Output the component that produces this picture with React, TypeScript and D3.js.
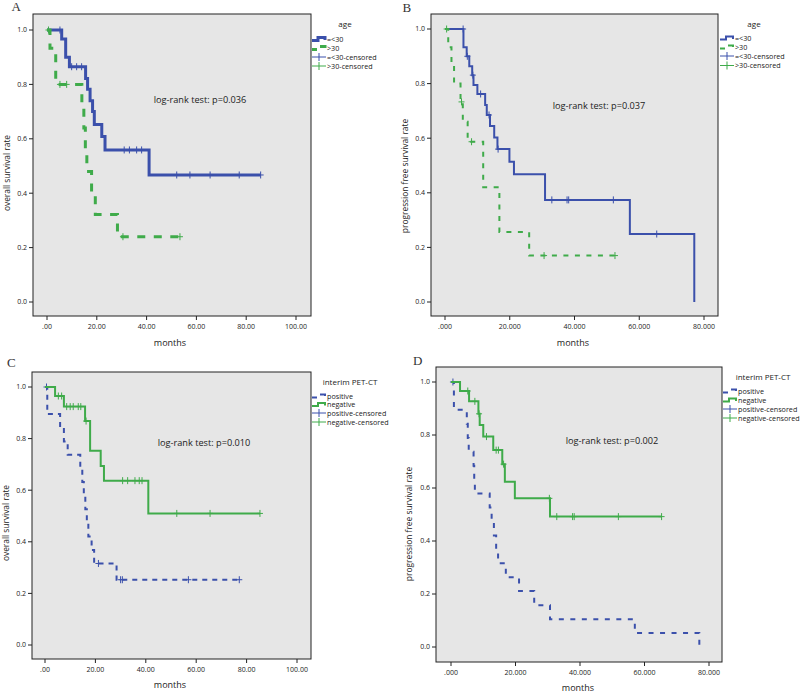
import React from "react";
import * as d3 from "d3";

// ---------- DATA ----------
// Panel A: overall survival by age
const aYoungTimes = [0, 5.9, 7.5, 9.0, 15.5, 16.3, 17.3, 18.3, 19.0, 22.0, 23.3, 41.0];
const aYoungSurv = [1, 0.967, 0.9, 0.865, 0.822, 0.782, 0.74, 0.7, 0.653, 0.608, 0.559, 0.467];
const aYoungCensor = [5.2, 9.9, 11.9, 13.9, 31.0, 33.1, 36.0, 38.0, 52.1, 57.4, 65.5, 77.2, 85.8];
const aOldTimes = [0, 1.2, 3.5, 14.0, 14.8, 15.4, 16.0, 17.9, 19.4, 28.3];
const aOldSurv = [1, 0.933, 0.8, 0.733, 0.64, 0.56, 0.48, 0.4, 0.322, 0.24];
const aOldCensor = [0.6, 5.2, 7.9, 30.5, 53.4];

// Panel B: progression free survival by age
const bYoungTimes = [0, 5.7, 6.7, 7.5, 8.4, 8.8, 10.0, 12.4, 12.9, 13.9, 15.2, 16.2, 19.9, 21.3, 30.9, 57.1, 77.0];
const bYoungSurv = [1, 0.933, 0.9, 0.864, 0.831, 0.795, 0.762, 0.722, 0.685, 0.645, 0.603, 0.56, 0.514, 0.468, 0.374, 0.249, 0];
const bYoungCensor = [5.6, 6.9, 8.6, 11.0, 13.6, 16.4, 33.0, 37.7, 38.2, 52.0, 65.4];
const bOldTimes = [0, 1.0, 2.0, 2.8, 4.8, 5.5, 7.0, 11.8, 16.8, 26.0];
const bOldSurv = [1, 0.933, 0.867, 0.8, 0.733, 0.66, 0.587, 0.42, 0.256, 0.17];
const bOldCensor = [0.5, 5.1, 8.2, 30.6, 52.5];

// Panel C: overall survival by interim PET-CT
const cPosTimes = [0, 0.9, 6.0, 7.5, 9.0, 14.0, 14.8, 15.4, 16.0, 16.6, 17.2, 18.5, 19.5, 28.4];
const cPosSurv = [1, 0.895, 0.842, 0.789, 0.737, 0.684, 0.632, 0.579, 0.526, 0.474, 0.421, 0.368, 0.316, 0.253];
const cPosCensor = [0.6, 21.2, 30.0, 30.7, 56.9, 77.1];
const cNegTimes = [0, 4.0, 7.5, 15.9, 17.9, 22.1, 23.4, 41.0];
const cNegSurv = [1, 0.965, 0.924, 0.868, 0.753, 0.694, 0.637, 0.51];
const cNegCensor = [5.3, 6.6, 8.6, 10.0, 11.2, 13.2, 14.2, 16.3, 30.8, 32.8, 35.7, 37.4, 38.5, 52.3, 65.5, 85.3];

// Panel D: progression free survival by interim PET-CT
const dPosTimes = [0, 0.9, 4.9, 5.2, 5.5, 7.0, 7.2, 7.4, 12.0, 12.6, 13.3, 14.0, 14.6, 17.0, 21.1, 25.8, 30.7, 57.0, 77.0];
const dPosSurv = [1, 0.895, 0.842, 0.789, 0.737, 0.684, 0.632, 0.579, 0.526, 0.474, 0.421, 0.368, 0.316, 0.263, 0.211, 0.158, 0.105, 0.053, 0];
const dPosCensor = [0.6];
const dNegTimes = [0, 2.8, 5.6, 8.5, 8.9, 10.0, 13.1, 15.9, 16.7, 19.8, 30.7];
const dNegSurv = [1, 0.966, 0.927, 0.88, 0.838, 0.794, 0.743, 0.69, 0.624, 0.561, 0.492];
const dNegCensor = [5.2, 7.4, 8.7, 11.0, 14.0, 14.7, 16.3, 30.5, 32.8, 37.7, 38.2, 51.9, 65.3];

const yTicks = [0, 0.2, 0.4, 0.6, 0.8, 1.0];
const yTickLabels = ["0.0", "0.2", "0.4", "0.6", "0.8", "1.0"];
const osTicks = [0, 20, 40, 60, 80, 100];
const osTickLabels = [".00", "20.00", "40.00", "60.00", "80.00", "100.00"];
const pfsTicks = [0, 20, 40, 60, 80];
const pfsTickLabels = [".000", "20.000", "40.000", "60.000", "80.000"];

const ageLegend = ["=<30", ">30", "=<30-censored", ">30-censored"];
const petLegend = ["positive", "negative", "positive-censored", "negative-censored"];

// ---------- STYLE ----------
const BLUE = "#3b50ab";
const GREEN = "#3fab4a";
const BG = "#e6e6e6";
const FONT = "'Open Sans', 'DejaVu Sans', sans-serif";
const SERIF = "'Liberation Serif', 'DejaVu Serif', serif";

type Series = {
  times: number[];
  surv: number[];
  censor: number[];
  color: string;
  dash?: string;
  width: number;
};

type Layout = {
  fx0: number; fx1: number; fy0: number; fy1: number;
  xp0: number; xp1: number; yp0: number; yp1: number;
  xMax: number;
};

function survAt(times: number[], surv: number[], t: number) {
  let s = surv[0];
  for (let i = 0; i < times.length; i++) if (times[i] <= t) s = surv[i];
  return s;
}

function Panel(props: {
  L: Layout;
  xTicks: number[];
  xLabels: string[];
  series: Series[];
  legendTitle: string;
  legendItems: string[];
  legendX: number;
  legendTitleX: number;
  legendTitleY: number;
  legendY: number[];
  letter: string;
  letterX: number;
  letterY: number;
  ylabel: string;
  ylabelX: number;
  ylabelY: number;
  xlabelX: number;
  xlabelY: number;
  logrank: string;
  logrankX: number;
  logrankY: number;
}) {
  const { L } = props;
  const x = d3.scaleLinear().domain([0, L.xMax]).range([L.xp0, L.xp1]);
  const y = d3.scaleLinear().domain([0, 1]).range([L.yp0, L.yp1]);
  const line = d3
    .line<[number, number]>()
    .x((d) => x(d[0]))
    .y((d) => y(d[1]))
    .curve(d3.curveStepAfter);

  return (
    <g>
      <rect x={L.fx0} y={L.fy0} width={L.fx1 - L.fx0} height={L.fy1 - L.fy0} fill={BG} stroke="#222" strokeWidth={1} />
      {yTicks.map((v, i) => (
        <g key={"y" + i}>
          <line x1={L.fx0 - 4} x2={L.fx0} y1={y(v)} y2={y(v)} stroke="#222" strokeWidth={1} />
          <text x={L.fx0 - 6} y={y(v)} dy="0.35em" textAnchor="end" fontSize={7} fontFamily={FONT} fill="#222">
            {yTickLabels[i]}
          </text>
        </g>
      ))}
      {props.xTicks.map((v, i) => (
        <g key={"x" + i}>
          <line x1={x(v)} x2={x(v)} y1={L.fy1} y2={L.fy1 + 4} stroke="#222" strokeWidth={1} />
          <text x={x(v)} y={L.fy1 + 12.5} textAnchor="middle" fontSize={7} fontFamily={FONT} fill="#222">
            {props.xLabels[i]}
          </text>
        </g>
      ))}
      {props.series.map((s, i) => {
        const last = Math.max(s.times[s.times.length - 1], ...s.censor);
        const pts: [number, number][] = s.times.map((t, j) => [t, s.surv[j]] as [number, number]);
        pts.push([last, s.surv[s.surv.length - 1]]);
        return (
          <g key={"s" + i}>
            <path d={line(pts) || ""} fill="none" stroke={s.color} strokeWidth={s.width} strokeDasharray={s.dash} />
            {s.censor.map((c, k) => {
              const cx = x(c);
              const cy = y(survAt(s.times, s.surv, c));
              return (
                <path key={k} d={`M${cx - 3},${cy}H${cx + 3}M${cx},${cy - 3.5}V${cy + 3.5}`} stroke={s.color} strokeWidth={1} fill="none" />
              );
            })}
          </g>
        );
      })}
      <text x={props.legendTitleX} y={props.legendTitleY} textAnchor="middle" fontSize={8} fontFamily={FONT} fill="#222">
        {props.legendTitle}
      </text>
      {props.legendItems.map((label, i) => {
        const s = props.series[i % 2];
        const ly = props.legendY[i];
        const x0 = props.legendX;
        let sym: React.ReactNode;
        if (i < 2) {
          if (s.dash) {
            sym = (
              <path d={`M${x0},${ly + 1.5}H${x0 + 5}M${x0 + 8},${ly - 1.5}H${x0 + 13}V${ly}`} stroke={s.color} strokeWidth={s.width} fill="none" />
            );
          } else {
            sym = (
              <path d={`M${x0},${ly + 1.5}H${x0 + 6}V${ly - 1.5}H${x0 + 13}V${ly + 1}`} stroke={s.color} strokeWidth={s.width} fill="none" />
            );
          }
        } else {
          sym = (
            <path d={`M${x0},${ly}H${x0 + 14}M${x0 + 7},${ly - 4}V${ly + 4}`} stroke={s.color} strokeWidth={1} fill="none" />
          );
        }
        return (
          <g key={"l" + i}>
            {sym}
            <text x={x0 + 15} y={ly} dy="0.35em" fontSize={7.2} fontFamily={FONT} fill="#222">
              {label}
            </text>
          </g>
        );
      })}
      <text x={props.letterX} y={props.letterY} fontSize={13} fontFamily={SERIF} fill="#333">
        {props.letter}
      </text>
      <text
        transform={`translate(${props.ylabelX},${props.ylabelY}) rotate(-90)`}
        textAnchor="middle"
        fontSize={8.4}
        fontFamily={FONT}
        fill="#222"
      >
        {props.ylabel}
      </text>
      <text x={props.xlabelX} y={props.xlabelY} textAnchor="middle" fontSize={9} fontFamily={FONT} fill="#222">
        months
      </text>
      <text x={props.logrankX} y={props.logrankY} textAnchor="middle" fontSize={9.2} fontFamily={FONT} fill="#222">
        {props.logrank}
      </text>
    </g>
  );
}

export default function App() {
  const LA: Layout = { fx0: 33, fx1: 311, fy0: 14, fy1: 316, xp0: 47, xp1: 296, yp0: 302, yp1: 30, xMax: 100 };
  const LB: Layout = { fx0: 431, fx1: 718, fy0: 14, fy1: 316, xp0: 445, xp1: 704, yp0: 302, yp1: 29, xMax: 80 };
  const LC: Layout = { fx0: 32, fx1: 311, fy0: 372, fy1: 659, xp0: 45, xp1: 297, yp0: 645, yp1: 387, xMax: 100 };
  const LD: Layout = { fx0: 436, fx1: 722, fy0: 367, fy1: 662, xp0: 451, xp1: 709, yp0: 647, yp1: 382, xMax: 80 };

  return (
    <svg width={800} height={693} style={{ position: "absolute", left: 0, top: 0, background: "#fff" }}>
      <rect width={800} height={693} fill="#fff" />
      <Panel
        L={LA}
        xTicks={osTicks}
        xLabels={osTickLabels}
        series={[
          { times: aYoungTimes, surv: aYoungSurv, censor: aYoungCensor, color: BLUE, width: 3 },
          { times: aOldTimes, surv: aOldSurv, censor: aOldCensor, color: GREEN, width: 3, dash: "8 8.5" },
        ]}
        legendTitle="age"
        legendItems={ageLegend}
        legendX={312}
        legendTitleX={345}
        legendTitleY={26.5}
        legendY={[39, 48, 57, 66]}
        letter="A"
        letterX={11.5}
        letterY={10.8}
        ylabel="overall survival rate"
        ylabelX={10}
        ylabelY={173}
        xlabelX={170}
        xlabelY={345.5}
        logrank="log-rank test: p=0.036"
        logrankX={200}
        logrankY={103}
      />
      <Panel
        L={LB}
        xTicks={pfsTicks}
        xLabels={pfsTickLabels}
        series={[
          { times: bYoungTimes, surv: bYoungSurv, censor: bYoungCensor, color: BLUE, width: 2 },
          { times: bOldTimes, surv: bOldSurv, censor: bOldCensor, color: GREEN, width: 2, dash: "5 6.5" },
        ]}
        legendTitle="age"
        legendItems={ageLegend}
        legendX={720}
        legendTitleX={754}
        legendTitleY={26.5}
        legendY={[38, 47, 56, 65.5]}
        letter="B"
        letterX={402.5}
        letterY={11.5}
        ylabel="progression free survival rate"
        ylabelX={407.5}
        ylabelY={176}
        xlabelX={573}
        xlabelY={345.5}
        logrank="log-rank test: p=0.037"
        logrankX={599}
        logrankY={109}
      />
      <Panel
        L={LC}
        xTicks={osTicks}
        xLabels={osTickLabels}
        series={[
          { times: cPosTimes, surv: cPosSurv, censor: cPosCensor, color: BLUE, width: 2, dash: "5 5" },
          { times: cNegTimes, surv: cNegSurv, censor: cNegCensor, color: GREEN, width: 2 },
        ]}
        legendTitle="interim PET-CT"
        legendItems={petLegend}
        legendX={312}
        legendTitleX={350}
        legendTitleY={385}
        legendY={[396, 404.5, 413, 422]}
        letter="C"
        letterX={7}
        letterY={367}
        ylabel="overall survival rate"
        ylabelX={8.5}
        ylabelY={523}
        xlabelX={170}
        xlabelY={688}
        logrank="log-rank test: p=0.010"
        logrankX={204}
        logrankY={445.5}
      />
      <Panel
        L={LD}
        xTicks={pfsTicks}
        xLabels={pfsTickLabels}
        series={[
          { times: dPosTimes, surv: dPosSurv, censor: dPosCensor, color: BLUE, width: 2, dash: "5 6.5" },
          { times: dNegTimes, surv: dNegSurv, censor: dNegCensor, color: GREEN, width: 2 },
        ]}
        legendTitle="interim PET-CT"
        legendItems={petLegend}
        legendX={723}
        legendTitleX={763}
        legendTitleY={380}
        legendY={[391, 400, 409, 418]}
        letter="D"
        letterX={413}
        letterY={365}
        ylabel="progression free survival rate"
        ylabelX={412}
        ylabelY={524}
        xlabelX={578}
        xlabelY={690.5}
        logrank="log-rank test: p=0.002"
        logrankX={612}
        logrankY={444}
      />
    </svg>
  );
}
